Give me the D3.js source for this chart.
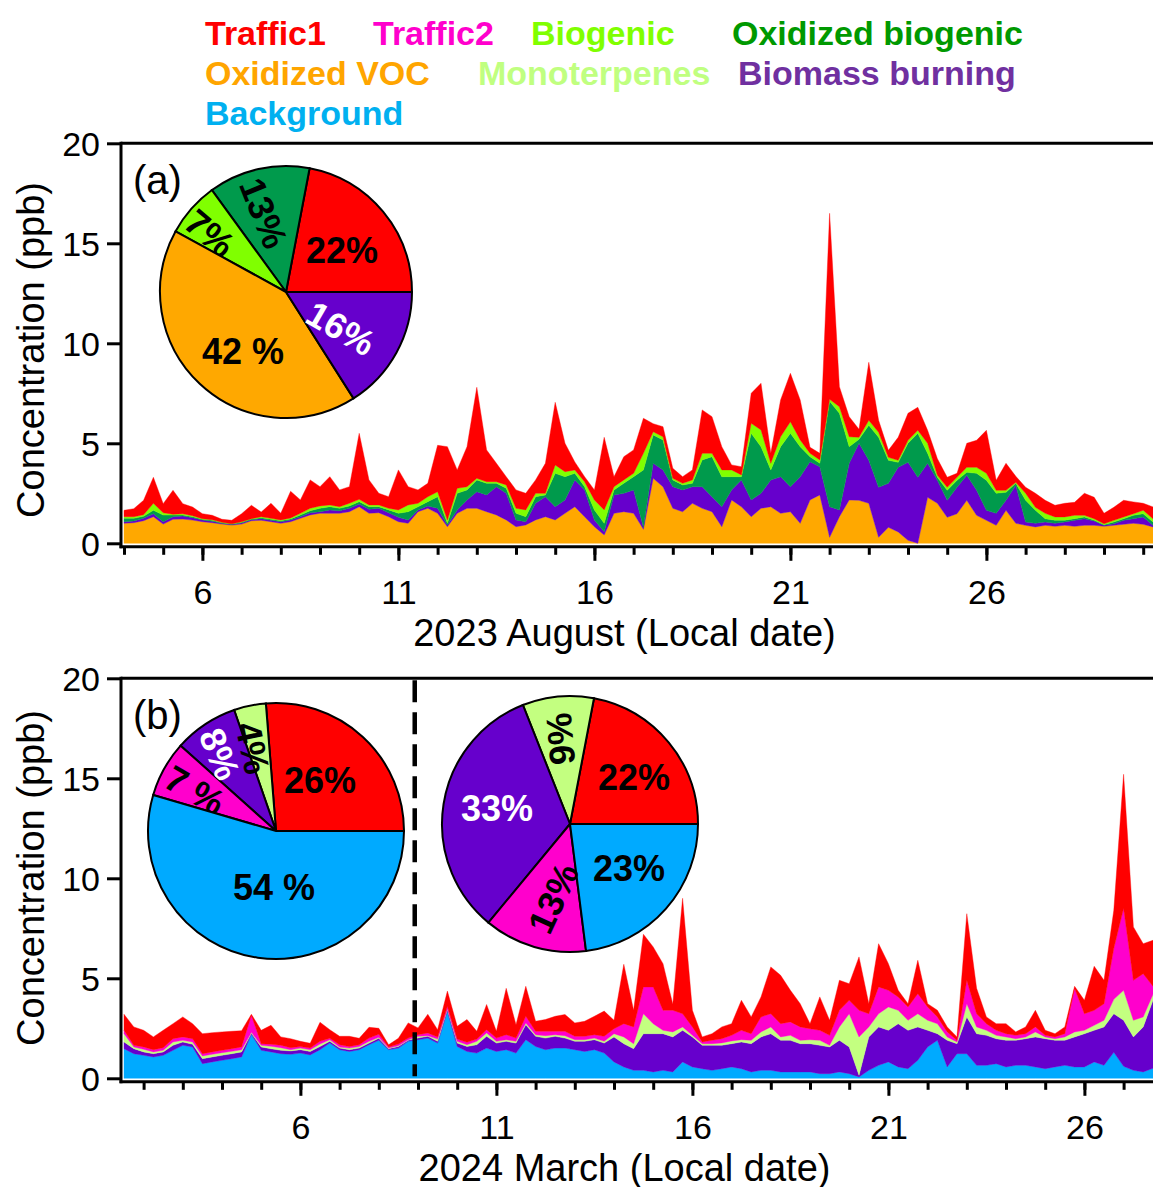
<!DOCTYPE html>
<html>
<head>
<meta charset="utf-8">
<script src="https://cdn.jsdelivr.net/npm/d3@7"></script>
<style>
  body { margin: 0; background: #fff; }
  svg { display: block; font-family: "Liberation Sans", Arial, Helvetica, sans-serif; }
</style>
</head>
<body>
<svg id="chart" width="1153" height="1187"></svg>
<script>
// ---------- data ----------
// Panel (a): 2023 August, 6-hourly values starting Aug 4 00:00 (ppb)
const augStart = Date.UTC(2023, 7, 4, 0);
const augOxVOC = [
  1.00, 1.03, 1.13, 1.33,  0.96, 1.20, 1.21, 1.16,  1.08, 1.03, 0.96, 0.91,
  0.96, 1.13, 1.15, 1.08,  1.00, 1.08, 1.25, 1.42,  1.50, 1.50, 1.50, 1.58,
  1.83, 1.50, 1.53, 1.33,  1.08, 1.00, 1.58, 1.75,  1.50, 0.83, 1.50, 1.75,
  1.75, 1.58, 1.42, 1.17,  0.83, 0.92, 1.17, 1.33,  1.17, 1.50, 1.83, 1.33,
  0.83, 0.42, 1.50, 1.58,  1.50, 0.70, 3.25, 2.83,  1.75, 1.58, 2.00, 1.75,
  1.58, 0.83, 2.17, 1.83,  1.33, 1.75, 1.83, 1.50,  1.58, 1.00, 2.17, 2.42,
  0.30, 1.33, 2.17, 2.15,  2.00, 0.30, 0.80, 0.57,  0.15, 0.00, 2.30, 2.00,
  1.30, 1.48, 2.15, 1.40,  1.15, 0.90, 1.65, 1.00,  0.90, 0.82, 0.90, 0.85,
  0.90, 0.85, 0.90, 0.90,  0.85, 0.90, 0.95, 1.00,  0.95, 0.82
];
const augBiomass = [
  0.08, 0.09, 0.12, 0.15,  0.12, 0.13, 0.15, 0.12,  0.08, 0.07, 0.04, 0.04,
  0.06, 0.05, 0.08, 0.07,  0.08, 0.08, 0.08, 0.11,  0.08, 0.17, 0.13, 0.17,
  0.14, 0.20, 0.22, 0.20,  0.22, 0.17, 0.09, 0.12,  0.25, 0.09, 0.17, 0.42,
  0.83, 0.84, 1.41, 1.33,  0.34, 0.16, 0.83, 1.00,  0.66, 0.67, 1.34, 1.34,
  0.34, 0.16, 0.92, 0.92,  1.17, 0.10, 0.75, 0.84,  1.08, 1.09, 0.83, 1.08,
  0.75, 1.00, 0.50, 1.34,  0.84, 0.75, 1.34, 1.83,  1.25, 2.33, 1.91, 1.41,
  1.53, 0.34, 1.83, 2.85,  2.15, 2.50, 2.20, 3.23,  3.90, 3.30, 1.70, 1.15,
  0.85, 1.32, 1.25, 1.25,  0.50, 0.60, 0.50, 1.90,  0.17, 0.18, 0.17, 0.15,
  0.17, 0.30, 0.33, 0.22,  0.05, 0.08, 0.20, 0.23,  0.37, 0.08
];
const augOxBiogenic = [
  0.17, 0.13, 0.10, 0.17,  0.33, 0.08, 0.05, 0.05,  0.04, 0.05, 0.03, 0.02,
  0.03, 0.03, 0.05, 0.05,  0.05, 0.06, 0.09, 0.10,  0.17, 0.16, 0.12, 0.12,
  0.11, 0.13, 0.08, 0.14,  0.20, 0.41, 0.16, 0.21,  0.58, 0.08, 0.83, 0.50,
  0.59, 0.58, 0.17, 0.25,  0.33, 0.25, 0.33, 0.09,  1.67, 1.16, 0.33, 0.16,
  0.50, 0.42, 0.25, 0.50,  0.66, 2.87, 1.42, 1.50,  0.34, 0.25, 0.17, 1.34,
  2.00, 1.50, 0.66, 0.16,  3.33, 2.33, 0.50, 1.50,  2.67, 1.50, 0.25, 0.17,
  5.27, 4.83, 0.83, 0.20,  1.75, 2.50, 1.15, 0.25,  0.95, 2.20, 0.50, 0.15,
  0.50, 0.35, 0.15, 0.85,  1.50, 1.00, 0.40, 0.10,  1.08, 0.65, 0.16, 0.15,
  0.08, 0.08, 0.09, 0.03,  0.03, 0.09, 0.08, 0.17,  0.16, 0.17
];
const augBiogenic = [
  0.08, 0.08, 0.08, 0.35,  0.12, 0.04, 0.07, 0.05,  0.03, 0.03, 0.02, 0.01,
  0.03, 0.02, 0.05, 0.05,  0.04, 0.05, 0.08, 0.12,  0.12, 0.09, 0.08, 0.13,
  0.12, 0.09, 0.09, 0.08,  0.17, 0.34, 0.17, 0.25,  0.25, 0.17, 0.25, 0.16,
  0.08, 0.08, 0.08, 0.17,  0.25, 0.34, 0.17, 0.08,  0.42, 0.25, 0.17, 0.25,
  0.50, 0.67, 0.16, 0.17,  0.17, 0.83, 0.16, 0.16,  0.08, 0.08, 0.17, 0.33,
  0.17, 0.34, 0.34, 0.09,  0.50, 0.84, 0.33, 0.50,  0.58, 0.34, 0.17, 0.17,
  0.10, 0.33, 0.50, 0.10,  0.25, 0.25, 0.15, 0.10,  0.15, 0.15, 0.50, 0.10,
  0.15, 0.15, 0.25, 0.30,  0.35, 0.15, 0.10, 0.05,  0.35, 0.15, 0.27, 0.17,
  0.17, 0.17, 0.08, 0.08,  0.05, 0.08, 0.09, 0.08,  0.17, 0.16
];
const augTraffic1 = [
  0.32, 0.40, 0.72, 1.30,  0.45, 1.20, 0.50, 0.43,  0.25, 0.22, 0.15, 0.17,
  0.40, 0.67, 0.23, 0.75,  0.33, 1.33, 0.67, 1.42,  0.96, 1.41, 0.84, 0.83,
  3.30, 1.25, 0.58, 0.58,  2.00, 0.91, 0.67, 0.67,  2.32, 3.66, 0.92, 2.00,
  4.55, 1.59, 0.92, 0.41,  0.92, 0.83, 0.67, 1.50,  3.13, 1.42, 0.40, 0.25,
  0.50, 3.63, 0.50, 1.16,  1.17, 1.75, 0.40, 0.50,  0.50, 0.33, 0.50, 2.17,
  1.83, 1.16, 0.25, 0.41,  1.50, 2.33, 0.50, 1.84,  2.42, 2.00, 0.30, 0.33,
  9.30, 1.00, 1.00, 0.40,  2.90, 0.60, 0.35, 1.15,  1.35, 1.15, 0.65, 0.83,
  0.50, 0.20, 1.20, 1.35,  2.15, 0.50, 1.35, 0.30,  0.30, 0.70, 0.65, 0.58,
  0.68, 0.65, 1.10, 1.07,  0.52, 0.65, 0.83, 0.59,  0.35, 0.59
];

// Panel (b): 2024 March, 6-hourly values starting Mar 1 12:00 (ppb)
const marStart = Date.UTC(2024, 2, 1, 12);
const marBackground = [
  1.48, 1.23,
  1.15, 1.07, 1.15, 1.40,  1.65, 1.57, 0.73, 0.82,  0.90, 0.98, 1.07, 2.20,
  1.40, 1.32, 1.23, 1.20,  1.26, 1.17, 1.43, 1.76,  1.43, 1.34, 1.43, 1.68,
  1.90, 1.43, 1.51, 1.85,  1.93, 2.01, 1.76, 3.36,  1.59, 1.34, 1.26, 1.51,
  1.34, 1.43, 1.26, 1.93,  1.59, 1.43, 1.51, 1.51,  1.43, 1.34, 1.43, 1.26,
  0.82, 0.57, 0.40, 0.40,  0.32, 0.40, 0.32, 0.82,  0.57, 0.48, 0.40, 0.48,
  0.57, 0.48, 0.32, 0.40,  0.40, 0.32, 0.32, 0.32,  0.32, 0.23, 0.23, 0.32,
  0.23, 0.07, 0.40, 0.65,  0.82, 0.57, 0.48, 0.90,  1.57, 1.90, 0.57, 1.23,
  1.23, 0.65, 0.65, 0.73,  0.57, 0.65, 0.65, 0.57,  0.48, 0.57, 0.65, 0.57,
  0.57, 0.82, 0.65, 1.30,  0.60, 0.40, 0.32, 0.50
];
const marBiomass = [
  0.34, 0.25,
  0.17, 0.16, 0.17, 0.25,  0.17, 0.13, 0.25, 0.25,  0.25, 0.25, 0.25, 0.05,
  0.17, 0.16, 0.17, 0.17,  0.17, 0.17, 0.16, 0.09,  0.08, 0.09, 0.08, 0.08,
  0.10, 0.05, 0.08, 0.05,  0.08, 0.09, 0.09, 0.08,  0.17, 0.25, 0.42, 0.59,
  0.42, 0.42, 0.50, 0.75,  0.51, 0.58, 0.59, 0.50,  0.42, 0.51, 0.50, 0.50,
  1.25, 1.16, 1.08, 1.83,  1.91, 1.83, 1.75, 1.58,  1.50, 1.17, 1.25, 1.17,
  1.16, 1.34, 1.41, 1.67,  1.83, 1.58, 1.58, 1.41,  1.41, 1.42, 1.34, 1.58,
  1.34, 0.08, 1.67, 1.92,  1.58, 2.16, 1.92, 1.67,  0.83, 0.33, 1.33, 0.50,
  1.84, 1.58, 1.50, 1.25,  1.33, 1.25, 1.33, 1.50,  1.50, 1.33, 1.25, 1.50,
  1.66, 1.58, 1.92, 1.93,  2.30, 1.67, 2.25, 3.40
];
const marMonoterpenes = [
  0.41, 0.09,
  0.13, 0.09, 0.08, 0.17,  0.08, 0.12, 0.14, 0.13,  0.13, 0.12, 0.11, 0.05,
  0.08, 0.12, 0.13, 0.06,  0.08, 0.09, 0.12, 0.08,  0.05, 0.08, 0.08, 0.09,
  0.05, 0.03, 0.04, 0.03,  0.09, 0.03, 0.11, 0.04,  0.09, 0.09, 0.17, 0.17,
  0.09, 0.08, 0.09, 0.09,  0.08, 0.12, 0.08, 0.12,  0.08, 0.08, 0.08, 0.09,
  0.16, 0.34, 0.25, 1.00,  0.50, 0.17, 0.25, 0.17,  0.08, 0.08, 0.08, 0.12,
  0.14, 0.11, 0.17, 0.25,  0.34, 0.17, 0.25, 0.17,  0.20, 0.25, 0.08, 0.67,
  1.66, 1.92, 0.50, 0.66,  1.17, 0.67, 0.50, 0.66,  0.50, 0.50, 0.17, 0.09,
  0.66, 0.34, 0.25, 0.17,  0.17, 0.08, 0.09, 0.25,  0.09, 0.08, 0.17, 0.25,
  0.17, 0.25, 0.33, 0.72,  1.50, 0.83, 0.50, 0.30
];
const marTraffic2 = [
  0.17, 0.08,
  0.12, 0.11, 0.13, 0.16,  0.17, 0.16, 0.11, 0.12,  0.12, 0.13, 0.14, 0.85,
  0.08, 0.10, 0.12, 0.10,  0.08, 0.08, 0.14, 0.07,  0.12, 0.08, 0.09, 0.16,
  0.15, 0.05, 0.08, 0.08,  0.08, 0.14, 0.10, 0.12,  0.11, 0.12, 0.11, 0.16,
  0.16, 0.25, 0.16, 0.33,  0.17, 0.22, 0.17, 0.22,  0.17, 0.17, 0.17, 0.25,
  0.25, 0.66, 0.84, 1.34,  1.84, 1.00, 1.08, 0.66,  0.42, 0.09, 0.17, 0.21,
  0.28, 0.47, 0.33, 0.75,  0.66, 0.66, 0.67, 0.67,  0.55, 0.50, 0.50, 0.83,
  0.67, 1.33, 0.66, 1.34,  0.83, 0.67, 0.67, 1.00,  0.67, 0.34, 0.25, 0.08,
  1.17, 0.66, 0.33, 0.25,  0.16, 0.17, 0.16, 0.25,  0.08, 0.09, 0.16, 2.18,
  0.83, 0.75, 0.83, 2.55,  4.10, 2.00, 2.16, 0.40
];
const marTraffic1 = [
  0.80, 0.92,
  0.83, 0.64, 0.87, 0.75,  1.00, 0.75, 1.00, 0.96,  0.92, 0.87, 0.81, 0.05,
  0.67, 0.95, 0.42, 0.45,  0.26, 0.24, 0.95, 0.43,  0.42, 0.51, 0.32, 0.54,
  0.30, 0.12, 0.29, 0.76,  0.34, 0.93, 0.37, 0.76,  0.64, 1.14, 0.39, 1.26,
  0.34, 2.32, 0.67, 1.50,  0.50, 0.59, 0.75, 0.84,  0.67, 0.75, 0.92, 1.26,
  0.42, 2.97, 0.83, 2.63,  2.00, 2.33, 0.30, 5.77,  0.83, 0.25, 0.33, 0.59,
  0.58, 1.50, 0.84, 1.00,  2.34, 2.42, 1.58, 1.16,  0.25, 1.67, 0.75, 1.50,
  0.83, 2.67, 0.50, 2.16,  1.33, 0.33, 0.16, 1.67,  0.16, 0.33, 0.25, 0.17,
  3.33, 1.27, 0.34, 0.33,  0.50, 0.17, 0.34, 0.83,  0.25, 0.16, 0.34, 0.10,
  0.67, 2.20, 1.17, 1.90,  6.70, 2.67, 1.50, 2.30
];
const marDashedLine = Date.UTC(2024, 2, 8, 22);

// axis ticks
const yTicks = [0, 5, 10, 15, 20];
const augMajorDays = [6, 11, 16, 21, 26];
const marMajorDays = [6, 11, 16, 21, 26];

// pie charts (slices counter-clockwise from 3 o'clock)
const pieACats = ["Traffic1", "Oxidized biogenic", "Biogenic", "Oxidized VOC", "Biomass burning"];
const pieAValues = [22, 13, 7, 42, 16];
const pieATexts = ["22%", "13%", "7%", "42 %", "16%"];
const pieB1Cats = ["Traffic1", "Monoterpenes", "Biomass burning", "Traffic2", "Background"];
const pieB1Values = [26, 4, 8, 7, 54];
const pieB1Texts = ["26%", "4%", "8%", "7 %", "54 %"];
const pieB2Cats = ["Traffic1", "Monoterpenes", "Biomass burning", "Traffic2", "Background"];
const pieB2Values = [22, 9, 33, 13, 23];
const pieB2Texts = ["22%", "9%", "33%", "13%", "23%"];

const legendNames = ["Traffic1", "Traffic2", "Biogenic", "Oxidized biogenic",
                     "Oxidized VOC", "Monoterpenes", "Biomass burning", "Background"];

// ---------- styles ----------
const fillColor = {
  "Traffic1": "#ff0000",
  "Traffic2": "#ff00cc",
  "Biogenic": "#80ff00",
  "Oxidized biogenic": "#009a4c",
  "Oxidized VOC": "#ffa800",
  "Monoterpenes": "#c3ff80",
  "Biomass burning": "#6600cc",
  "Background": "#00aaff"
};
const legendColor = {
  "Traffic1": "#ff0000",
  "Traffic2": "#ff00cc",
  "Biogenic": "#80ff00",
  "Oxidized biogenic": "#009900",
  "Oxidized VOC": "#ffa500",
  "Monoterpenes": "#c0ff80",
  "Biomass burning": "#7030a0",
  "Background": "#00b0f0"
};
// legend layout [x, baseline]
const legendPos = [[205, 45], [373, 45], [531, 45], [732, 45],
                   [205, 85], [478, 85], [738, 85], [205, 125]];

const svg = d3.select("#chart");
const HOUR = 3600 * 1000;

function buildRows(start, keys, arrays) {
  return arrays[0].map((_, i) => {
    const row = { date: new Date(start + i * 6 * HOUR) };
    keys.forEach((k, j) => row[k] = arrays[j][i]);
    return row;
  });
}

function drawPanel(p) {
  const n = p.arrays[0].length;
  const end = p.start + (n - 1) * 6 * HOUR;
  const x = d3.scaleUtc().domain([new Date(p.start), new Date(end)]).range([124, 1153]);
  const y = d3.scaleLinear().domain([0, 20]).range([p.y0, p.y0 - 400]);
  const axisY = p.y0 + 3.5;
  const g = svg.append("g");

  const rows = buildRows(p.start, p.keys, p.arrays);
  const layers = d3.stack().keys(p.keys)(rows);
  const area = d3.area()
    .x(d => x(d.data.date))
    .y0(d => y(d[0]))
    .y1(d => y(d[1]));

  g.append("g").selectAll("path")
    .data(layers)
    .join("path")
    .attr("fill", d => fillColor[d.key])
    .attr("stroke", d => fillColor[d.key])
    .attr("stroke-width", 0.4)
    .attr("d", area);

  // x axis: daily minor ticks, labelled major ticks
  const minor = g.append("g")
    .attr("transform", `translate(0,${axisY})`)
    .call(d3.axisBottom(x).ticks(d3.utcDay.every(1)).tickSize(8).tickFormat(""));
  minor.select(".domain").remove();
  minor.selectAll("line").attr("stroke", "#000").attr("stroke-width", 3);

  const majorDates = p.majorDays.map(d => new Date(Date.UTC(p.year, p.month, d)));
  const major = g.append("g")
    .attr("transform", `translate(0,${axisY})`)
    .call(d3.axisBottom(x).tickValues(majorDates).tickSize(14).tickFormat(d3.utcFormat("%-d")));
  major.select(".domain").remove();
  major.selectAll("line").attr("stroke", "#000").attr("stroke-width", 3);
  major.selectAll("text")
    .attr("y", 57).attr("dy", null)
    .attr("fill", "#000")
    .style("font-size", "34px")
    .style("font-family", '"Liberation Sans", Arial, sans-serif');

  // y axis
  const ya = g.append("g")
    .attr("transform", "translate(121,0)")
    .call(d3.axisLeft(y).tickValues(yTicks).tickSize(14).tickPadding(7));
  ya.select(".domain").remove();
  ya.selectAll("line").attr("stroke", "#000").attr("stroke-width", 3);
  ya.selectAll("text")
    .attr("fill", "#000")
    .attr("dy", "0.36em")
    .style("font-size", "34px")
    .style("font-family", '"Liberation Sans", Arial, sans-serif');

  // frame lines
  g.append("line").attr("x1", 121).attr("x2", 121)
    .attr("y1", y(20) - 1.5).attr("y2", axisY + 1.5)
    .attr("stroke", "#000").attr("stroke-width", 3);
  g.append("line").attr("x1", 119.5).attr("x2", 1153)
    .attr("y1", axisY).attr("y2", axisY)
    .attr("stroke", "#000").attr("stroke-width", 3);
  g.append("line").attr("x1", 121).attr("x2", 1153)
    .attr("y1", y(20)).attr("y2", y(20))
    .attr("stroke", "#000").attr("stroke-width", 3);

  // titles
  g.append("text")
    .attr("x", (124 + 1153) / 2 - 14).attr("y", axisY + 99)
    .attr("text-anchor", "middle")
    .style("font-size", "38px")
    .text(p.xTitle);
  g.append("text")
    .attr("transform", `translate(44,${p.yTitleY}) rotate(-90)`)
    .attr("text-anchor", "middle")
    .style("font-size", "38px")
    .text("Concentration (ppb)");
  g.append("text")
    .attr("x", 133).attr("y", y(20) + 51)
    .style("font-size", "40px")
    .text(p.tag);

  return { x, y, g };
}

let clipId = 0;
function drawPie(cx, cy, r, cats, values, texts, place) {
  const pie = d3.pie().sort(null).value(d => d)
    .startAngle(Math.PI / 2).endAngle(Math.PI / 2 - 2 * Math.PI);
  const arc = d3.arc().innerRadius(0).outerRadius(r);
  const arcs = pie(values);
  const g = svg.append("g").attr("transform", `translate(${cx},${cy})`);

  g.selectAll("path.slice")
    .data(arcs)
    .join("path")
    .attr("class", "slice")
    .attr("d", arc)
    .attr("fill", (d, i) => fillColor[cats[i]])
    .attr("stroke", "#000")
    .attr("stroke-width", 2);

  arcs.forEach((a, i) => {
    const [dx, dy, rot, color, clip] = place[i];
    let holder = g;
    if (clip) {
      const id = "pieclip" + (clipId++);
      svg.append("defs").append("clipPath").attr("id", id)
        .append("path").attr("d", arc(a));
      holder = g.append("g").attr("clip-path", `url(#${id})`);
    }
    holder.append("text")
      .attr("transform", `translate(${dx},${dy}) rotate(${rot})`)
      .attr("text-anchor", "middle")
      .attr("dy", "0.36em")
      .attr("fill", color)
      .style("font-size", "36px")
      .style("font-weight", "bold")
      .text(texts[i]);
  });
}

// ---------- panels ----------
drawPanel({
  start: augStart, year: 2023, month: 7, y0: 543.3,
  keys: ["Oxidized VOC", "Biomass burning", "Oxidized biogenic", "Biogenic", "Traffic1"],
  arrays: [augOxVOC, augBiomass, augOxBiogenic, augBiogenic, augTraffic1],
  majorDays: augMajorDays,
  xTitle: "2023 August (Local date)", yTitleY: 350, tag: "(a)"
});

const pb = drawPanel({
  start: marStart, year: 2024, month: 2, y0: 1078.3,
  keys: ["Background", "Biomass burning", "Monoterpenes", "Traffic2", "Traffic1"],
  arrays: [marBackground, marBiomass, marMonoterpenes, marTraffic2, marTraffic1],
  majorDays: marMajorDays,
  xTitle: "2024 March (Local date)", yTitleY: 878, tag: "(b)"
});

// dashed separator in panel (b)
pb.g.append("line")
  .attr("x1", pb.x(new Date(marDashedLine))).attr("x2", pb.x(new Date(marDashedLine)))
  .attr("y1", pb.y(20) + 2).attr("y2", pb.y(0) - 2)
  .attr("stroke", "#000").attr("stroke-width", 4.5)
  .attr("stroke-dasharray", "22,10");

// ---------- pies ----------
drawPie(286, 292, 126, pieACats, pieAValues, pieATexts, [
  [56, -42, 0, "#000", false],
  [-22, -79, 68, "#000", false],
  [-76, -59, 40, "#000", true],
  [-43, 59, 0, "#000", false],
  [55, 36, 30, "#fff", false]
]);
drawPie(276, 831, 128, pieB1Cats, pieB1Values, pieB1Texts, [
  [44, -51, 0, "#000", false],
  [-23, -83, 78, "#000", false],
  [-56, -77, 68, "#fff", true],
  [-81, -41, 30, "#000", true],
  [-2, 56, 0, "#000", false]
]);
drawPie(570, 824, 128, pieB2Cats, pieB2Values, pieB2Texts, [
  [64, -47, 0, "#000", false],
  [-10, -85, -95, "#000", false],
  [-73, -16, 0, "#fff", false],
  [-17, 74, -65, "#000", false],
  [59, 44, 0, "#000", false]
]);

// ---------- legend ----------
svg.append("g").selectAll("text")
  .data(legendNames)
  .join("text")
  .attr("x", (d, i) => legendPos[i][0])
  .attr("y", (d, i) => legendPos[i][1])
  .attr("fill", d => legendColor[d])
  .style("font-size", "34px")
  .style("font-weight", "bold")
  .text(d => d);
</script>
</body>
</html>
